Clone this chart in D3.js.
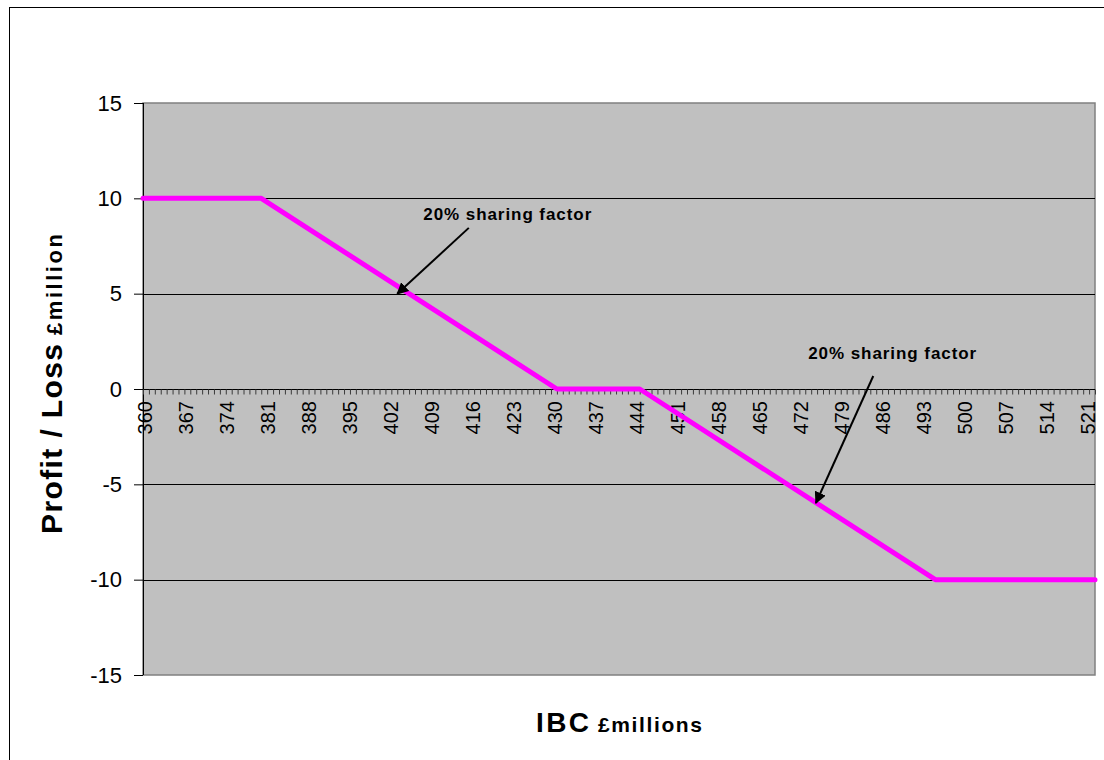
<!DOCTYPE html>
<html>
<head>
<meta charset="utf-8">
<script src="https://cdn.jsdelivr.net/npm/d3@7"></script>
<style>
  html, body { margin: 0; padding: 0; background: #ffffff; }
  svg { display: block; font-family: "Liberation Sans", Arial, sans-serif; }
</style>
</head>
<body>
<svg id="chart" width="1104" height="760"></svg>
<script>
// IBC (£ millions) at which the profit/loss curve changes direction
const ibcPoints = [360, 380, 430, 444, 494, 521];
// Profit / loss (£ million) at those IBC values
const profitPoints = [10, 10, 0, 0, -10, -10];
// Category range and labelled categories on the IBC axis
const ibcFirst = 360, ibcLast = 521;
const xTickLabels = [360, 367, 374, 381, 388, 395, 402, 409, 416, 423, 430, 437,
                     444, 451, 458, 465, 472, 479, 486, 493, 500, 507, 514, 521];
const yTickValues = [-15, -10, -5, 0, 5, 10, 15];
// Callouts: text anchor and arrow (start -> tip) in data units
const notes = [
  { text: "20% sharing factor", tx: 407.4, ty: 8.87, x1: 415.1, y1: 8.45, x2: 403.0, y2: 4.99 },
  { text: "20% sharing factor", tx: 472.5, ty: 1.57, x1: 483.5, y1: 0.68, x2: 473.8, y2: -5.98 }
];

const svg = d3.select("#chart");
const plot = { left: 143, right: 1095, top: 103, bottom: 675 };

const x = d3.scaleLinear().domain([ibcFirst, ibcLast]).range([plot.left, plot.right]);
const y = d3.scaleLinear().domain([-15, 15]).range([plot.bottom, plot.top]);
// labels sit a little inside the axis ends so the last one stays clear of the edge
const xLabel = d3.scaleLinear().domain([ibcFirst, ibcLast]).range([plot.left + 2, plot.right - 7]);

// outer chart frame
svg.append("rect")
  .attr("x", 9.5).attr("y", 7.5).attr("width", 1200).attr("height", 800)
  .attr("fill", "#ffffff").attr("stroke", "#000000").attr("stroke-width", 1);

// plot area
svg.append("rect")
  .attr("x", plot.left).attr("y", plot.top)
  .attr("width", plot.right - plot.left).attr("height", plot.bottom - plot.top)
  .attr("fill", "#c0c0c0").attr("stroke", "#808080").attr("stroke-width", 1.5);

// horizontal gridlines
svg.append("g").selectAll("line")
  .data(yTickValues.filter(v => v !== 15 && v !== -15 && v !== 0))
  .join("line")
  .attr("x1", plot.left).attr("x2", plot.right)
  .attr("y1", d => Math.round(y(d)) + 0.5).attr("y2", d => Math.round(y(d)) + 0.5)
  .attr("stroke", "#000000").attr("stroke-width", 1);

// value axis
const yAxis = d3.axisLeft(y).tickValues(yTickValues).tickSize(9).tickPadding(12)
  .tickFormat(d => String(d));
const yg = svg.append("g").attr("transform", `translate(${plot.left},0)`).call(yAxis);
yg.select(".domain").attr("stroke", "#000000").attr("d", `M0.5,${plot.top}V${plot.bottom}`);
yg.selectAll(".tick line").attr("stroke", "#000000");
yg.selectAll(".tick text")
  .attr("font-size", 22).attr("fill", "#000000")
  .attr("font-family", "'Liberation Sans', Arial, sans-serif");

// category axis crossing at zero
const allCats = d3.range(ibcFirst, ibcLast + 1);
const xAxis = d3.axisBottom(x).tickValues(allCats).tickSize(5).tickFormat("");
const xg = svg.append("g").attr("transform", `translate(0,${Math.round(y(0)) + 0.5})`).call(xAxis);
xg.select(".domain").attr("stroke", "#000000").attr("d", `M${plot.left},0H${plot.right}`);
xg.selectAll(".tick line").attr("stroke", "#3a3a3a").attr("stroke-width", 1);

// rotated category labels
svg.append("g").selectAll("text")
  .data(xTickLabels)
  .join("text")
  .attr("transform", d => `translate(${xLabel(d)},${y(0) + 12}) rotate(-90)`)
  .attr("text-anchor", "end")
  .attr("dominant-baseline", "central")
  .attr("font-size", 20)
  .attr("fill", "#000000")
  .text(d => d);

// profit / loss curve
const line = d3.line().x(d => x(d[0])).y(d => y(d[1]));
svg.append("path")
  .datum(ibcPoints.map((v, i) => [v, profitPoints[i]]))
  .attr("d", line)
  .attr("fill", "none")
  .attr("stroke", "#ff00ff")
  .attr("stroke-width", 5)
  .attr("stroke-linejoin", "round")
  .attr("stroke-linecap", "round");

// callouts
svg.append("defs").append("marker")
  .attr("id", "arrowhead")
  .attr("viewBox", "0 0 10 10").attr("refX", 9).attr("refY", 5)
  .attr("markerWidth", 6).attr("markerHeight", 6)
  .attr("markerUnits", "strokeWidth")
  .attr("orient", "auto")
  .append("path").attr("d", "M0,0L10,5L0,10z").attr("fill", "#000000");

const ng = svg.append("g");
ng.selectAll("line").data(notes).join("line")
  .attr("x1", d => x(d.x1)).attr("y1", d => y(d.y1))
  .attr("x2", d => x(d.x2)).attr("y2", d => y(d.y2))
  .attr("stroke", "#000000").attr("stroke-width", 2)
  .attr("marker-end", "url(#arrowhead)");
ng.selectAll("text").data(notes).join("text")
  .attr("x", d => x(d.tx)).attr("y", d => y(d.ty))
  .attr("font-size", 17).attr("font-weight", "bold")
  .attr("textLength", 168).attr("lengthAdjust", "spacing")
  .attr("fill", "#000000")
  .text(d => d.text);

// axis titles: a large bold name followed by a smaller unit
function axisTitle(parts, gap) {
  const total = d3.sum(parts, p => p.len) + gap * (parts.length - 1);
  let offset = -total / 2;
  const g = svg.append("g");
  parts.forEach(p => {
    g.append("text")
      .attr("x", offset).attr("y", 0)
      .attr("font-size", p.size).attr("font-weight", "bold").attr("fill", "#000000")
      .attr("textLength", p.len).attr("lengthAdjust", "spacing")
      .text(p.text);
    offset += p.len + gap;
  });
  return g;
}

axisTitle([{ text: "IBC", size: 28, len: 53 }, { text: "£millions", size: 21, len: 104 }], 9)
  .attr("transform", `translate(${(plot.left + plot.right) / 2},732)`);

axisTitle([{ text: "Profit / Loss", size: 30, len: 190 }, { text: "£million", size: 22, len: 101 }], 9)
  .attr("transform", `translate(62,384) rotate(-90)`);
</script>
</body>
</html>
